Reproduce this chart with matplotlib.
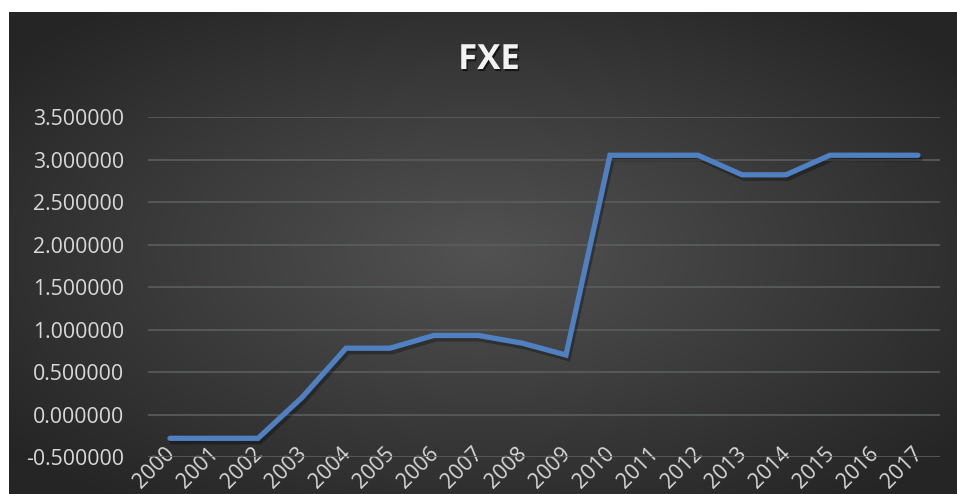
import numpy as np
import matplotlib
matplotlib.use("Agg")
import matplotlib.pyplot as plt
import matplotlib.patheffects as pe

# FXE yearly values
years = [str(y) for y in range(2000, 2018)]
values = [-0.28, -0.28, -0.28, 0.20, 0.78, 0.78, 0.93, 0.93, 0.84, 0.70,
          3.05, 3.05, 3.05, 2.82, 2.82, 3.05, 3.05, 3.05]
yticks = [-0.5, 0.0, 0.5, 1.0, 1.5, 2.0, 2.5, 3.0, 3.5]
title = "FXE"

W, H = 957, 494
fig = plt.figure(figsize=(W / 100, H / 100), dpi=100)
fig.patch.set_facecolor("white")

# radial gradient backdrop of the chart area
bx0, bx1, by0, by1 = 9, 957, 0, 482
bg = fig.add_axes([bx0 / W, by0 / H, (bx1 - bx0) / W, (by1 - by0) / H])
gx, gy = np.meshgrid(np.linspace(-1, 1, 400), np.linspace(-1, 1, 200))
r = np.clip(np.sqrt(gx ** 2 + gy ** 2) / 1.3, 0, 1)
inner = np.array([0x52, 0x52, 0x52]) / 255
outer = np.array([0x25, 0x25, 0x25]) / 255
img = inner[None, None, :] * (1 - r[..., None]) + outer[None, None, :] * r[..., None]
bg.imshow(img, aspect="auto", extent=[0, 1, 0, 1])
bg.set_axis_off()

# plot area
px0, px1, py_top, py_bot = 148, 940, 117, 457
ax = fig.add_axes([px0 / W, (H - py_bot) / H, (px1 - px0) / W, (py_bot - py_top) / H])
ax.set_facecolor("none")
x = np.arange(len(years))
ax.plot(x, values, color="#4F81C2", lw=3.8, solid_capstyle="round",
        solid_joinstyle="miter",
        path_effects=[pe.SimpleLineShadow(offset=(1.5, -2.5), shadow_color="black", alpha=0.3),
                      pe.Normal()], zorder=3)
ax.set_xlim(-0.5, len(years) - 0.5)
ax.set_ylim(-0.5, 3.5)
ax.set_yticks(yticks)
ax.set_yticklabels([f"{v:.6f}" for v in yticks])
ax.yaxis.grid(True, color="#5A5E5C", lw=1.2)
ax.set_axisbelow(True)
for s in ax.spines.values():
    s.set_visible(False)
ax.set_xticks(x)
ax.set_xticklabels(years, rotation=45, ha="right", va="center_baseline", rotation_mode="anchor")
ax.tick_params(axis="y", length=0, pad=17, labelsize=15.3, labelcolor="#D9D9D9")
ax.tick_params(axis="x", length=0, pad=-6, labelsize=15.3, labelcolor="#D9D9D9")
for lab in ax.get_xticklabels() + ax.get_yticklabels():
    lab.set_fontfamily("Open Sans")

fig.text(489 / W, 1 - 60 / H, title, ha="center", va="center", color="#F2F2F2",
         fontsize=25, fontweight="bold", family="Open Sans",
         path_effects=[pe.withSimplePatchShadow(offset=(1, -1.5), shadow_rgbFace="black", alpha=0.6)])

fig.savefig("out.png", dpi=100, facecolor=fig.get_facecolor())
